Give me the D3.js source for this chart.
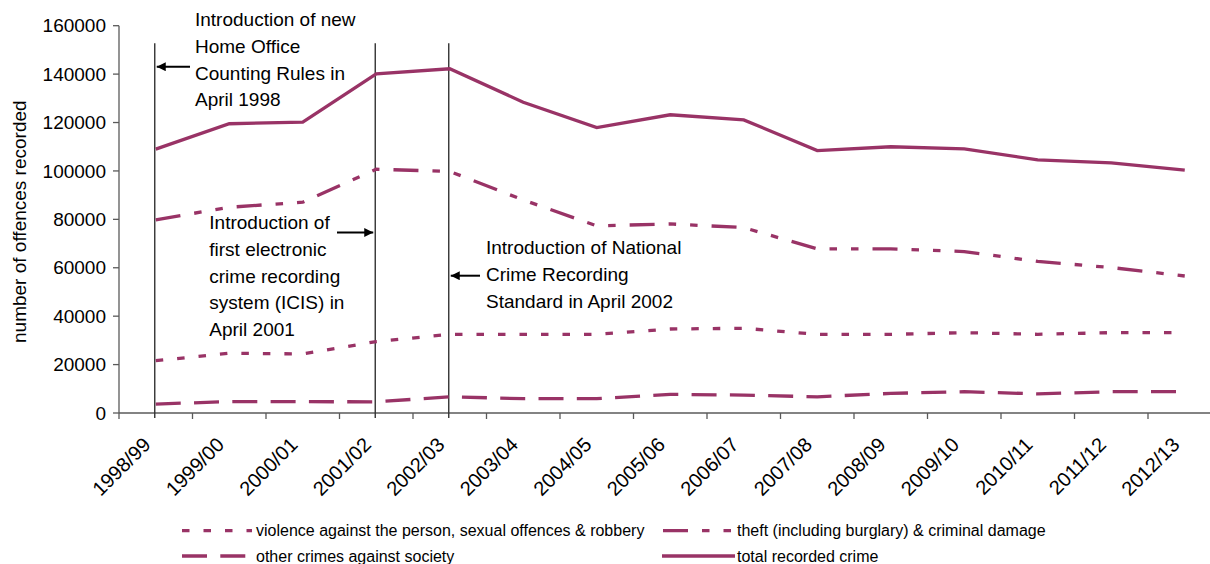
<!DOCTYPE html>
<html>
<head>
<meta charset="utf-8">
<script src="https://cdn.jsdelivr.net/npm/d3@7"></script>
<style>
  html, body { margin: 0; padding: 0; background: #fff; }
  svg { display: block; font-family: "Liberation Sans", Arial, sans-serif; }
</style>
</head>
<body>
<svg id="chart" width="1210" height="564"></svg>
<script>
// ---------------- data ----------------
const categories = ["1998/99","1999/00","2000/01","2001/02","2002/03","2003/04","2004/05",
  "2005/06","2006/07","2007/08","2008/09","2009/10","2010/11","2011/12","2012/13"];
const violence = [21600, 24700, 24400, 29500, 32500, 32500, 32500, 34700, 35000, 32500, 32500, 33200, 32500, 33200, 33200];
const theft    = [79800, 85000, 87100, 100700, 99800, 88000, 77300, 78100, 76600, 67800, 67800, 66700, 62600, 60100, 56600];
const other    = [3700, 4700, 4700, 4600, 6700, 5900, 5900, 7700, 7400, 6700, 8100, 8800, 7900, 8800, 8800];
const total    = [109000, 119500, 120200, 140100, 142200, 128400, 117900, 123200, 121100, 108400, 110000, 109100, 104600, 103300, 100300];
const yTicks   = [0, 20000, 40000, 60000, 80000, 100000, 120000, 140000, 160000];
const seriesNames = [
  "violence against the person, sexual offences & robbery",
  "theft (including burglary) & criminal damage",
  "other crimes against society",
  "total recorded crime"
];
const yTitle = "number of offences recorded";
const annotations = [
  { at: "1998/99", lines: ["Introduction of new", "Home Office", "Counting Rules in", "April 1998"] },
  { at: "2001/02", lines: ["Introduction of", "first electronic", "crime recording", "system (ICIS) in", "April 2001"] },
  { at: "2002/03", lines: ["Introduction of National", "Crime Recording", "Standard in April 2002"] }
];

// ---------------- layout ----------------
const COLOR = "#993366";
const FONT = 19;
const svg = d3.select("#chart");

const x = d3.scaleBand().domain(categories).range([119, 1221.5]).paddingInner(0).paddingOuter(0);
const y = d3.scaleLinear().domain([0, 160000]).range([413, 25.7]);
const cx = c => x(c) + x.bandwidth() / 2;

const defs = svg.append("defs");
defs.append("marker").attr("id", "arr").attr("viewBox", "0 0 10 10")
  .attr("refX", 10).attr("refY", 5).attr("markerWidth", 12).attr("markerHeight", 9)
  .attr("markerUnits", "userSpaceOnUse").attr("orient", "auto")
  .append("path").attr("d", "M0,0 L10,5 L0,10 z").attr("fill", "#000");

// ---------------- axes ----------------
const axisColor = "#5a5a5a";
// y axis
svg.append("line").attr("x1", 119).attr("x2", 119).attr("y1", y(160000)).attr("y2", y(0))
  .attr("stroke", axisColor).attr("stroke-width", 1.3);
const yt = svg.append("g").selectAll("g").data(yTicks).join("g")
  .attr("transform", d => `translate(0,${y(d)})`);
yt.append("line").attr("x1", 113).attr("x2", 119).attr("stroke", axisColor).attr("stroke-width", 1.3);
yt.append("text").attr("x", 106).attr("dy", "0.35em").attr("text-anchor", "end")
  .attr("font-size", FONT).attr("fill", "#000").text(d => d);

// x axis
svg.append("line").attr("x1", 119).attr("x2", 1221.5).attr("y1", y(0)).attr("y2", y(0))
  .attr("stroke", axisColor).attr("stroke-width", 1.3);
const bounds = categories.map(c => x(c)).concat([x.range()[1]]);
svg.append("g").selectAll("line").data(bounds).join("line")
  .attr("x1", d => d).attr("x2", d => d).attr("y1", y(0)).attr("y2", y(0) + 6)
  .attr("stroke", axisColor).attr("stroke-width", 1.3);
svg.append("g").selectAll("text").data(categories).join("text")
  .attr("transform", c => `translate(${cx(c) - 4},${y(0) + 33}) rotate(-45)`)
  .attr("text-anchor", "end").attr("font-size", 20).attr("fill", "#000").text(c => c);

// y title
svg.append("text").attr("transform", "translate(26,221.7) rotate(-90)")
  .attr("text-anchor", "middle").attr("font-size", FONT).attr("fill", "#000").text(yTitle);

// ---------------- annotation vertical lines ----------------
svg.append("g").selectAll("line").data(annotations).join("line")
  .attr("x1", d => cx(d.at) - 1).attr("x2", d => cx(d.at) - 1)
  .attr("y1", 43.3).attr("y2", y(0) + 5)
  .attr("stroke", "#333").attr("stroke-width", 1.4);

// ---------------- series ----------------
const series = [
  { name: seriesNames[0], values: violence, dash: "7.5,14" },
  { name: seriesNames[1], values: theft, dash: "25,14,7.5,14,7.5,14" },
  { name: seriesNames[2], values: other, dash: "25,13.3" },
  { name: seriesNames[3], values: total, dash: null }
];
const line = d3.line().x((d, i) => cx(categories[i])).y(d => y(d));
svg.append("g").selectAll("path").data(series).join("path")
  .attr("d", s => line(s.values)).attr("fill", "none").attr("stroke", COLOR)
  .attr("stroke-width", 3.3).attr("stroke-linejoin", "miter").attr("stroke-linecap", "butt")
  .attr("stroke-dasharray", s => s.dash);

// ---------------- annotation text + arrows ----------------
const annLayout = [
  { tx: 195, ty: 26, lh: 26.8, ax1: 190, ay: 66.7 },
  { tx: 209.3, ty: 229.3, lh: 26.7, ax1: 337, ay: 232.5 },
  { tx: 486, ty: 254, lh: 27.2, ax1: 480, ay: 275.7 }
];
annotations.forEach((a, i) => {
  const L = annLayout[i];
  const t = svg.append("text").attr("font-size", FONT).attr("fill", "#000");
  a.lines.forEach((ln, j) => {
    t.append("tspan").attr("x", L.tx).attr("y", L.ty + j * L.lh).text(ln);
  });
  const tipX = cx(a.at) - 1 + (L.ax1 > cx(a.at) ? 2 : -2);
  svg.append("line").attr("x1", L.ax1).attr("x2", tipX).attr("y1", L.ay).attr("y2", L.ay)
    .attr("stroke", "#000").attr("stroke-width", 2).attr("marker-end", "url(#arr)");
});

// ---------------- legend ----------------
const legendLayout = [
  { sx: 182, len: 70, ty: 530.7, tx: 256 },
  { sx: 663, len: 69, ty: 530.7, tx: 737 },
  { sx: 182, len: 65, ty: 556, tx: 256 },
  { sx: 662, len: 73, ty: 556, tx: 737 }
];
series.forEach((s, i) => {
  const L = legendLayout[i];
  svg.append("line").attr("x1", L.sx).attr("x2", L.sx + L.len).attr("y1", L.ty).attr("y2", L.ty)
    .attr("stroke", COLOR).attr("stroke-width", 3.3).attr("stroke-dasharray", s.dash);
  svg.append("text").attr("x", L.tx).attr("y", L.ty).attr("dy", "0.35em")
    .attr("font-size", 16).attr("fill", "#000").text(s.name);
});
</script>
</body>
</html>
